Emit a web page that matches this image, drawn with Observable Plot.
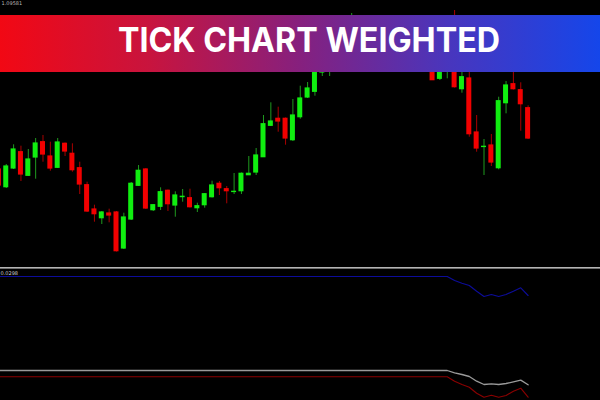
<!DOCTYPE html>
<html><head><meta charset="utf-8">
<script src="https://cdn.jsdelivr.net/npm/d3@7"></script>
<script src="https://cdn.jsdelivr.net/npm/@observablehq/plot@0.6"></script>
<style>
html,body{margin:0;padding:0;background:#000;width:600px;height:400px;overflow:hidden}
#wrap{position:relative;width:600px;height:400px;background:#000}
#main{position:absolute;left:0;top:0}
#sep{position:absolute;left:0;top:267px;width:600px;height:1px;background:#b4b4b4;border-bottom:1px solid #6e6e6e}
#ind{position:absolute;left:0;top:269px}
#banner{position:absolute;left:0;top:15px}
</style></head><body>
<div id="wrap"><div id="main"></div><div id="sep"></div><div id="ind"></div>
<svg id="banner" width="600" height="57">
<defs><linearGradient id="g" x1="0" x2="1" y1="0" y2="0">
<stop offset="0" stop-color="#f20814"/><stop offset="0.25" stop-color="#c8143e"/><stop offset="0.5" stop-color="#86207e"/><stop offset="0.75" stop-color="#4836be"/><stop offset="1" stop-color="#1546ea"/></linearGradient></defs>
<rect width="600" height="57" fill="url(#g)"/>
<text x="309" y="37" text-anchor="middle" textLength="382" lengthAdjust="spacingAndGlyphs" font-family="Inter, 'Open Sans', sans-serif" font-weight="700" font-size="33.5" fill="#fff">TICK CHART WEIGHTED</text>
</svg></div>
<script>
// Candle prices (arbitrary points)
const opens = [131,113.3,132,148.3,124.7,143,158.3,144,132.7,156.7,146.7,132.3,115.3,91,82.3,87,88,52,81,114.7,131,90.3,93.7,109.7,95,103.4,102.3,92.3,95.3,103.3,116.7,111.3,108.5,109.3,125.3,128,143.3,174.7,181.7,181.7,160.3,183.3,203,208.7,228,238,252,244,263,276,264,252,262,250,268,258,270,254,240,248,221.7,233.5,236,211.3,222,168,153.5,155,132.3,197.3,216.3,210.3,192.3];
const closes = [115,134,151,126,141,157,146,132,158,149,130.3,116,89,86.3,88,85,49.3,83,116.7,129.7,92,95.3,108.3,96.3,105,103.7,93.3,94.3,106.3,115,112.3,109.3,108.7,126.7,126.7,145,176.3,179,179,162,185,202,212,228,240,252,244,264,276,264,252,262,250,268,258,270,254,240,250,220.3,234,234,213.3,223.3,166.3,152,153.7,138,199.3,215,211.3,196.3,162];
const highs = [135,136,155.7,154.3,151,162,165,158.3,162,157.5,156.7,138.3,118.3,95.3,89,91.3,89,87.3,118,135,132,96,112.7,110.5,108.7,111,111.3,97.3,107,119.3,119,114,127,127.5,144,152,185,197.7,193.3,182.5,201,214.3,218,230,245,258,260,270,287,280,268,266,265,274,272,276,274,258,255,252,240,245,290,230,234,185,161,166,203.3,219,240,217.7,194.7];
const lows = [111,112,131,119,124,121.3,138.3,129.3,132,144,128.3,106,88,78.3,76,77.7,48.5,51,80,114,91,89,90,89,83.3,98.3,92.5,88,92.3,102.5,105,96.7,106,106,125,125,143,174,168.3,155.3,159,181.3,202,204.3,224,224,238,242,260,260,248,250,246,248,254,256,250,236,238,220,220,221.7,212.5,207.3,163.3,148.3,125,134,130.7,186.7,210.5,169.3,161];

// Indicator series (bar index, value)
const indIdx = [0,61,62,63,64,65,66,67,68,69,70,71,72];
const blueVals = [124,124,120,117.3,115,109.3,104,106,104,106,109.3,112.7,105];
const greyVals = [30,30,27.7,26,24,19.3,16,16.7,16,17,18.7,20.4,15.7];
const redVals  = [23.7,23.7,19.3,16,13.3,7.3,3.3,5.3,3.3,5,9.3,12.3,3.3];
const priceLabel = "1.09581";
const indLabel = "0.0298";

const candles = opens.map((o,i)=>({i, open:o, close:closes[i], high:highs[i], low:lows[i], up: closes[i] >= o}));
const xDomain = [0.218, 81.85];

const main = Plot.plot({
  width:600, height:267, margin:0,
  style:{background:"#000", overflow:"visible"},
  x:{domain:xDomain, axis:null},
  y:{domain:[33,300], axis:null},
  color:{type:"identity"},
  marks:[
    Plot.ruleX(candles,{x:"i", y1:"low", y2:"high", stroke:d=>d.up?"#1f9a1f":"#a80000", strokeWidth:1}),
    Plot.rect(candles,{x1:d=>d.i-0.34, x2:d=>d.i+0.34, y1:"open", y2:"close", fill:d=>d.up?"#10ee10":"#f20000", insetTop:-0.6, insetBottom:-0.6}),
    Plot.text([priceLabel],{text:d=>d, frameAnchor:"top-left", dx:1, dy:1, fill:"#bbb", fontSize:5, fontFamily:"DejaVu Sans"})
  ]
});
document.getElementById("main").appendChild(main);

const pts = (vals)=>indIdx.map((x,k)=>({x, v:vals[k]}));
const ind = Plot.plot({
  width:600, height:131, margin:0,
  style:{background:"#000", overflow:"visible"},
  x:{domain:xDomain, axis:null},
  y:{domain:[0,131], axis:null},
  marks:[
    Plot.line(pts(blueVals),{x:"x", y:"v", stroke:"#0c0c9a", strokeWidth:1.1}),
    Plot.line(pts(greyVals),{x:"x", y:"v", stroke:"#9a9a9a", strokeWidth:1.3}),
    Plot.line(pts(redVals),{x:"x", y:"v", stroke:"#8a0000", strokeWidth:1.1}),
    Plot.text([indLabel],{text:d=>d, frameAnchor:"top-left", dx:0, dy:2, fill:"#ccc", fontSize:5, fontFamily:"DejaVu Sans"})
  ]
});
document.getElementById("ind").appendChild(ind);
</script>
</body></html>
